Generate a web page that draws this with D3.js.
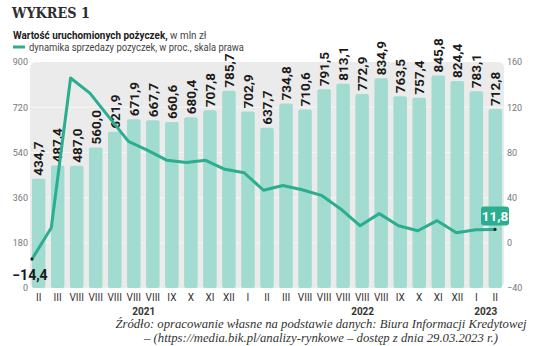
<!DOCTYPE html>
<html>
<head>
<meta charset="utf-8">
<script src="https://cdn.jsdelivr.net/npm/d3@7"></script>
<style>
  body { margin: 0; background: #fff; }
  svg { display: block; }
</style>
</head>
<body>
<div id="chart"></div>
<script>
const width = 536, height = 346;

// months on the x axis (as printed)
const months = ["II","III","VIII","VIII","VIII","VIII","VIII","IX","X","XI","XII","I","II","III","VIII","VIII","VIII","VIII","VIII","IX","X","XI","XII","I","II"];
const years = ["2021","2021","2021","2021","2021","2021","2021","2021","2021","2021","2021","2022","2022","2022","2022","2022","2022","2022","2022","2022","2022","2022","2022","2023","2023"];
// value of loans, mln zl (left axis)
const loans = [434.7,487.4,487.0,560.0,621.9,671.9,667.7,660.6,680.4,707.8,785.7,702.9,637.7,734.8,710.6,791.5,813.1,772.9,834.9,763.5,757.4,845.8,824.4,783.1,712.8];
// sales dynamics, % (right axis)
const dynamics = [-14.4,13.3,145.8,132.4,111,89.8,81.8,73,71,73,65,62,46.5,50.7,47,42,30,15.1,25.8,15.1,10.7,19.6,8.9,11.6,11.8];
const leftTicks = [0,180,360,540,720,900];
const rightTicks = [-40,0,40,80,120,160];

const fmt = v => d3.format(".1f")(v).replace(".", ",");
const teal = "#2aae8f", barFill = "#a2dbcf";
const numFont = "Roboto,sans-serif";

const svg = d3.select("#chart")
	.append("svg")
	.attr("width", width)
	.attr("height", height);

const idx = d3.range(months.length);

const x = d3.scaleBand()
	.domain(idx)
	.range([30, 504])
	.paddingInner(0.29)
	.paddingOuter(0.1);

const xLine = d3.scalePoint()
	.domain(idx)
	.range([32, 495]);

const yLeft = d3.scaleLinear().domain([0, 900]).range([288, 62]);
const yRight = d3.scaleLinear().domain([-40, 160]).range([288, 62]);

// title + legend
svg.append("text")
	.attr("x", 12).attr("y", 18)
	.attr("font-family", "'DejaVu Serif',serif")
	.attr("font-weight", "bold")
	.attr("font-size", 14.5)
	.attr("textLength", 78)
	.attr("lengthAdjust", "spacingAndGlyphs")
	.attr("fill", "#2e2e2e")
	.text("WYKRES 1");

const leg1 = svg.append("text")
	.attr("transform", "translate(13,39) scale(0.99,1)")
	.attr("font-family", "Roboto,sans-serif")
	.attr("font-size", 10)
	.attr("fill", "#222");
leg1.append("tspan").attr("font-weight", "bold").text("Wartość uruchomionych pożyczek,");
leg1.append("tspan").attr("fill", "#444").text(" w mln zł");

svg.append("line")
	.attr("x1", 13).attr("x2", 25)
	.attr("y1", 47).attr("y2", 47)
	.attr("stroke", teal).attr("stroke-width", 3);
svg.append("text")
	.attr("transform", "translate(29,51) scale(0.94,1)")
	.attr("font-family", "Roboto,sans-serif")
	.attr("font-size", 10)
	.attr("fill", "#444")
	.text("dynamika sprzedazy pozyczek, w proc., skala prawa");

// plot background
svg.append("rect")
	.attr("x", 30).attr("y", 62)
	.attr("width", 474).attr("height", 226)
	.attr("rx", 6)
	.attr("fill", "#ebebeb");

// faint gridlines
svg.append("g")
	.selectAll("line")
	.data(leftTicks.slice(1, -1))
	.join("line")
	.attr("x1", 30).attr("x2", 504)
	.attr("y1", d => yLeft(d)).attr("y2", d => yLeft(d))
	.attr("stroke", "#f6f6f6")
	.attr("stroke-width", 1);

// bars
svg.append("g")
	.selectAll("rect")
	.data(loans)
	.join("rect")
	.attr("x", (d, i) => x(i))
	.attr("y", d => yLeft(d))
	.attr("width", x.bandwidth())
	.attr("height", d => yLeft(0) - yLeft(d))
	.attr("rx", 2)
	.attr("fill", barFill);

// bar labels
svg.append("g")
	.selectAll("text")
	.data(loans)
	.join("text")
	.attr("transform", (d, i) => `translate(${x(i) + x.bandwidth() / 2 + 4.8},${yLeft(d) - 3}) rotate(-90)`)
	.attr("font-family", numFont)
	.attr("font-weight", "bold")
	.attr("font-size", 13.5)
	.attr("fill", "#1a1a1a")
	.text(d => fmt(d));

// line
const line = d3.line()
	.x((d, i) => xLine(i))
	.y(d => yRight(d));

svg.append("path")
	.datum(dynamics)
	.attr("d", line)
	.attr("fill", "none")
	.attr("stroke", teal)
	.attr("stroke-width", 3)
	.attr("stroke-linejoin", "round");

const first = 0, last = dynamics.length - 1;
[first, last].forEach(i => {
	svg.append("circle")
		.attr("cx", xLine(i)).attr("cy", yRight(dynamics[i]))
		.attr("r", 1.6)
		.attr("fill", "#222");
});

svg.append("text")
	.attr("x", xLine(first) - 2)
	.attr("y", yRight(dynamics[first]) + 21)
	.attr("text-anchor", "middle")
	.attr("font-family", numFont)
	.attr("font-weight", "bold")
	.attr("font-size", 14)
	.attr("fill", "#1a1a1a")
	.text(fmt(dynamics[first]));

const lx = xLine(last), ly = yRight(dynamics[last]);
svg.append("rect")
	.attr("x", lx - 14).attr("y", ly - 23)
	.attr("width", 28).attr("height", 19)
	.attr("rx", 3)
	.attr("fill", teal);
svg.append("text")
	.attr("x", lx).attr("y", ly - 8.5)
	.attr("text-anchor", "middle")
	.attr("font-family", numFont)
	.attr("font-weight", "bold")
	.attr("font-size", 13.5)
	.attr("fill", "#fff")
	.text(fmt(dynamics[last]));

// axes
const axisLeft = svg.append("g")
	.attr("transform", "translate(28,0)")
	.call(d3.axisLeft(yLeft).tickValues(leftTicks).tickSize(0).tickPadding(0));
const axisRight = svg.append("g")
	.attr("transform", "translate(507,0)")
	.call(d3.axisRight(yRight).tickValues(rightTicks).tickSize(0).tickPadding(0));
[axisLeft, axisRight].forEach(g => {
	g.select(".domain").remove();
	g.selectAll("text")
		.attr("font-family", "Roboto,sans-serif")
		.attr("font-size", 9)
		.attr("fill", "#777");
});

const axisX = svg.append("g")
	.attr("transform", `translate(0,${yLeft(0)})`)
	.call(d3.axisBottom(x).tickSize(0).tickPadding(6).tickFormat(i => months[i]));
axisX.select(".domain").remove();
axisX.selectAll("text")
	.attr("font-family", "Roboto,sans-serif")
	.attr("font-size", 10)
	.attr("fill", "#333");

// year labels
const yearGroups = d3.groups(idx, i => years[i]);
svg.append("g")
	.selectAll("text")
	.data(yearGroups)
	.join("text")
	.attr("x", ([y, is]) => (x(is[0]) + x(is[is.length - 1]) + x.bandwidth()) / 2 + (is.length > 2 ? 10 : 0))
	.attr("y", 315)
	.attr("text-anchor", "middle")
	.attr("font-family", "Roboto,sans-serif")
	.attr("font-weight", "bold")
	.attr("font-size", 10)
	.attr("fill", "#333")
	.text(([y]) => y);

// source
const src = svg.append("text")
	.attr("font-family", "'Liberation Serif',serif")
	.attr("font-style", "italic")
	.attr("font-size", 12.7)
	.attr("fill", "#333")
	.attr("text-anchor", "middle");
src.append("tspan").attr("x", 321).attr("y", 328)
	.text("Źródło: opracowanie własne na podstawie danych: Biura Informacji Kredytowej");
src.append("tspan").attr("x", 321).attr("y", 342)
	.text("– (https://media.bik.pl/analizy-rynkowe – dostęp z dnia 29.03.2023 r.)");
</script>
</body>
</html>
